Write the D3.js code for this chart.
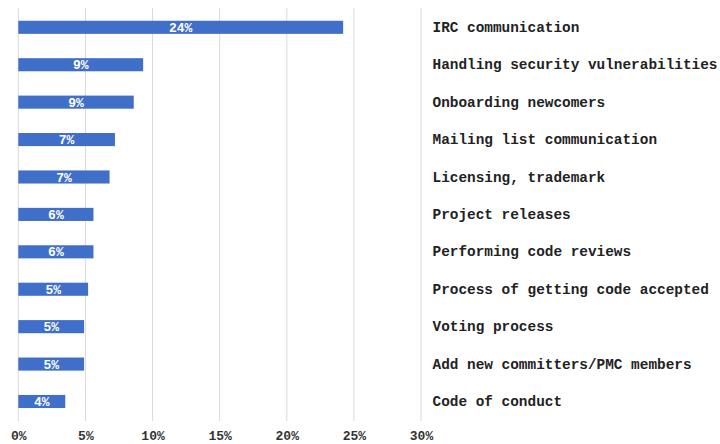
<!DOCTYPE html>
<html>
<head>
<meta charset="utf-8">
<script src="https://cdn.jsdelivr.net/npm/d3@7"></script>
<style>
  html, body { margin: 0; padding: 0; background: #fff; }
  svg { display: block; }
</style>
</head>
<body>
<svg id="chart" width="720" height="444"></svg>
<script>
// Topics and their share of responses (%)
const categories = [
  "IRC communication",
  "Handling security vulnerabilities",
  "Onboarding newcomers",
  "Mailing list communication",
  "Licensing, trademark",
  "Project releases",
  "Performing code reviews",
  "Process of getting code accepted",
  "Voting process",
  "Add new committers/PMC members",
  "Code of conduct"
];
const values = [24.2, 9.3, 8.6, 7.2, 6.8, 5.6, 5.6, 5.2, 4.9, 4.9, 3.5];
const tickValues = [0, 5, 10, 15, 20, 25, 30];

const svg = d3.select("#chart");
const mono = "'Liberation Mono', 'DejaVu Sans Mono', monospace";

const x = d3.scaleLinear().domain([0, 30]).range([18.3, 421]);
const y = d3.scaleBand().domain(categories).range([8.6, 420.2]).paddingInner(0.65).paddingOuter(0.325);

// vertical grid lines
svg.append("g")
  .selectAll("line")
  .data(tickValues)
  .join("line")
  .attr("x1", d => x(d)).attr("x2", d => x(d))
  .attr("y1", 8).attr("y2", 421)
  .attr("stroke", "#dadada")
  .attr("stroke-width", 1);

// x axis labels
const xAxis = d3.axisBottom(x).tickValues(tickValues).tickFormat(d => d + "%").tickSize(0).tickPadding(0);
const gx = svg.append("g").attr("transform", "translate(0,431)").call(xAxis);
gx.select(".domain").remove();
gx.selectAll("text")
  .attr("font-family", mono)
  .attr("font-weight", "bold")
  .attr("font-size", "13px")
  .attr("fill", "#333");

// bars
svg.append("g")
  .selectAll("rect")
  .data(values)
  .join("rect")
  .attr("x", x(0))
  .attr("y", (d, i) => y(categories[i]))
  .attr("width", d => x(d) - x(0))
  .attr("height", y.bandwidth())
  .attr("fill", "#3f6fc8");

// value labels inside bars
svg.append("g")
  .selectAll("text")
  .data(values)
  .join("text")
  .attr("x", d => (x(0) + x(d)) / 2)
  .attr("y", (d, i) => y(categories[i]) + y.bandwidth() / 2)
  .attr("dy", "0.36em")
  .attr("text-anchor", "middle")
  .attr("font-family", mono)
  .attr("font-weight", "bold")
  .attr("font-size", "13px")
  .attr("fill", "#fff")
  .text(d => Math.round(d) + "%");

// category labels to the right
const yAxis = d3.axisRight(y).tickSize(0).tickPadding(0);
const gy = svg.append("g").attr("transform", "translate(432.5,0)").call(yAxis);
gy.select(".domain").remove();
gy.selectAll("text")
  .attr("font-family", mono)
  .attr("font-weight", "bold")
  .attr("font-size", "14.4px")
  .attr("fill", "#222");
</script>
</body>
</html>
